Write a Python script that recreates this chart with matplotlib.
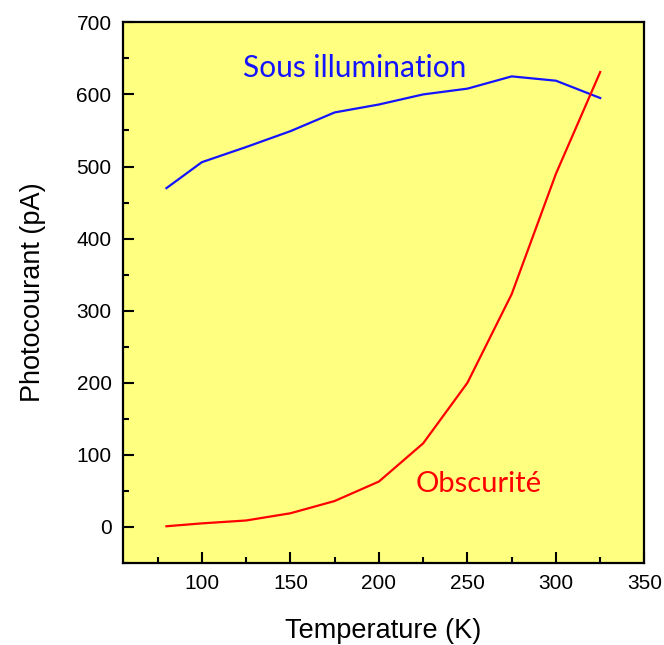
import numpy as np
import matplotlib.pyplot as plt
from matplotlib.ticker import MultipleLocator

plt.rcParams['font.family'] = ['Liberation Sans', 'DejaVu Sans']

# Photocurrent vs temperature
temperature = [80, 100, 125, 150, 175, 200, 225, 250, 275, 300, 325]  # K
illuminated = [470, 506, 527, 549, 575, 586, 600, 608, 625, 619, 595]  # pA
dark = [1, 5, 9, 19, 36, 63, 116, 200, 323, 490, 631]  # pA

fig = plt.figure(figsize=(6.64, 6.45), dpi=100)
ax = fig.add_axes([0.1848, 0.1271, 0.7858, 0.8383])
ax.set_facecolor('#FFFF80')

ax.plot(temperature, illuminated, color='#1414FF', lw=1.6)
ax.plot(temperature, dark, color='#FF0000', lw=1.6)

ax.text(123, 637, "Sous illumination", color='#1414FF', fontsize=21.5,
        family='Lato', va='center', ha='left')
ax.text(221, 60, "Obscurité", color='#FF0000', fontsize=21,
        family='Lato', va='center', ha='left')

ax.set_xlim(55.3, 350)
ax.set_ylim(-50, 700)
ax.xaxis.set_major_locator(MultipleLocator(50))
ax.xaxis.set_minor_locator(MultipleLocator(25))
ax.yaxis.set_major_locator(MultipleLocator(100))
ax.yaxis.set_minor_locator(MultipleLocator(50))
ax.tick_params(which='both', direction='in', width=1.5, labelsize=15)
ax.tick_params(which='major', length=8, pad=8)
ax.tick_params(which='minor', length=4.5)
for s in ax.spines.values():
    s.set_linewidth(1.6)

ax.set_xlabel("Temperature (K)", fontsize=19.5, labelpad=18)
ax.set_ylabel("Photocourant (pA)", fontsize=19.5, labelpad=22)

fig.savefig("out.png", dpi=100)
